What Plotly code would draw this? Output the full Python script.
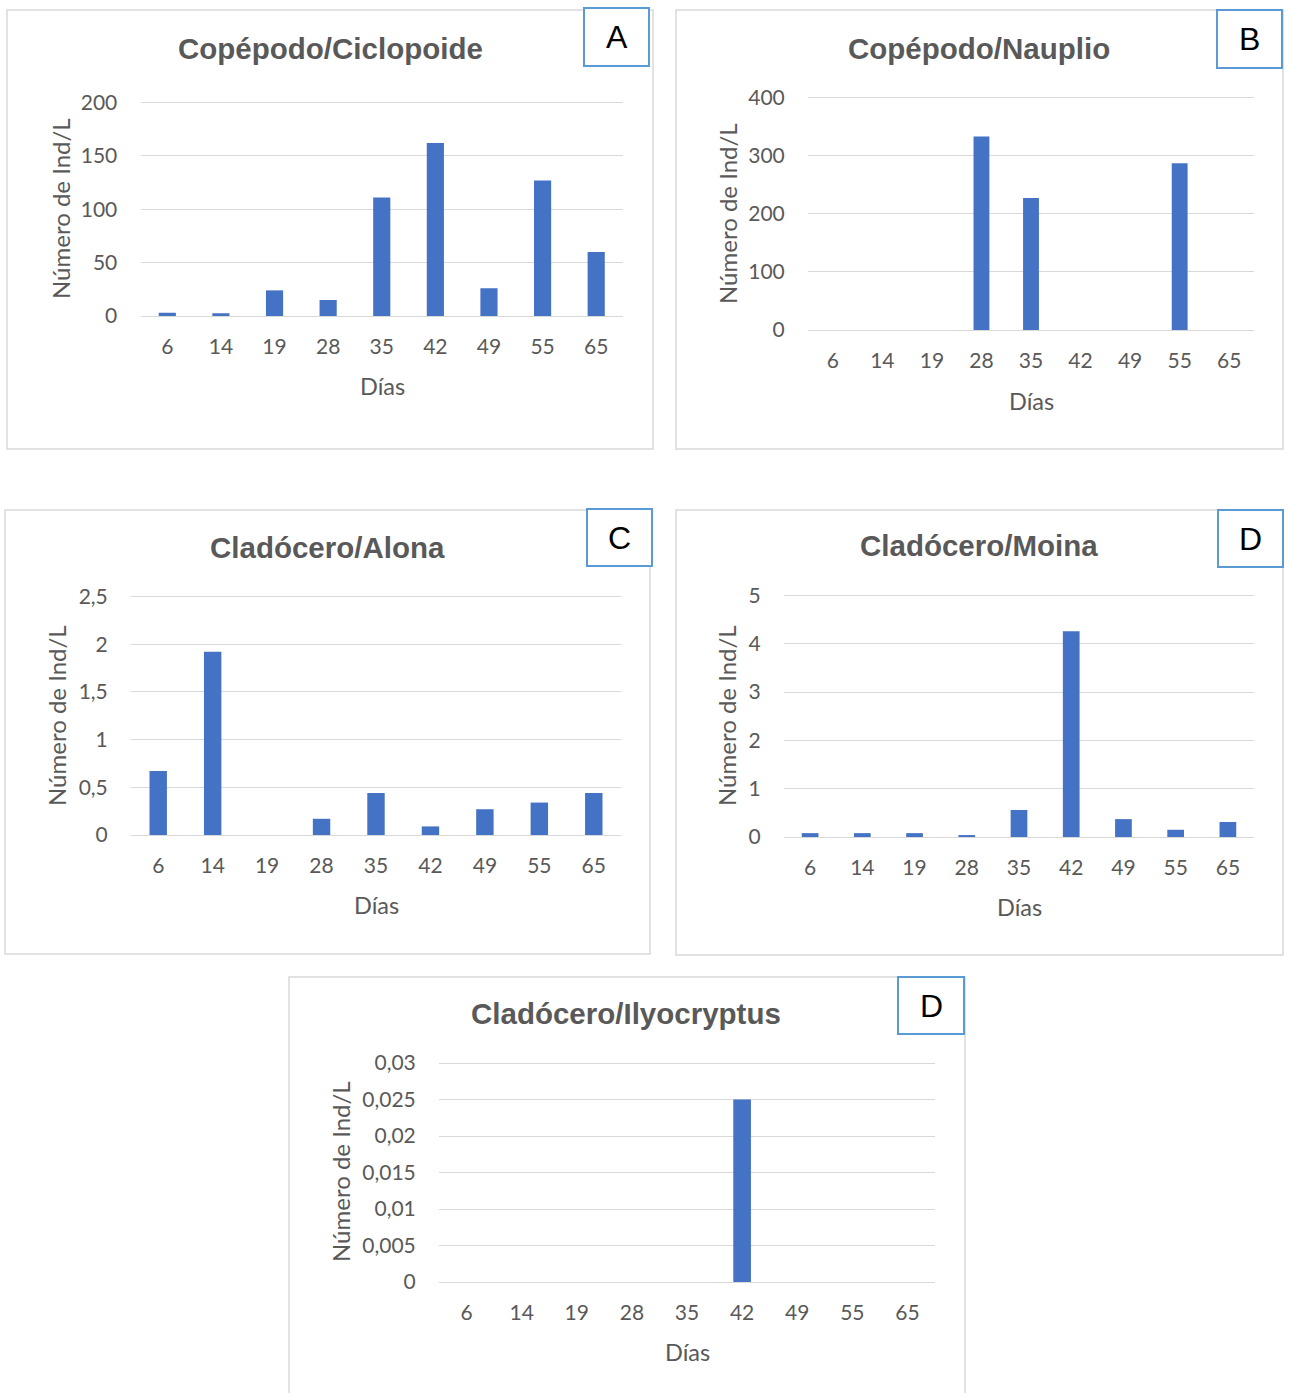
import plotly.graph_objects as go

W, H = 1290, 1393

dias = ["6", "14", "19", "28", "35", "42", "49", "55", "65"]

ciclopoide = [3, 2.5, 24, 15, 111, 162, 26, 127, 60]
nauplio = [0, 0, 0, 333, 227, 0, 0, 287, 0]
alona = [0.67, 1.92, 0, 0.17, 0.44, 0.09, 0.27, 0.34, 0.44]
moina = [0.08, 0.08, 0.08, 0.04, 0.56, 4.26, 0.37, 0.15, 0.31]
ilyocryptus = [0, 0, 0, 0, 0, 0.025, 0, 0, 0]

titles = ["Copépodo/Ciclopoide", "Copépodo/Nauplio", "Cladócero/Alona",
          "Cladócero/Moina", "Cladócero/Ilyocryptus"]
letters = ["A", "B", "C", "D", "D"]

ticks_a = [0, 50, 100, 150, 200]
ticks_a_txt = ["0", "50", "100", "150", "200"]
ticks_b = [0, 100, 200, 300, 400]
ticks_b_txt = ["0", "100", "200", "300", "400"]
ticks_c = [0, 0.5, 1, 1.5, 2, 2.5]
ticks_c_txt = ["0", "0,5", "1", "1,5", "2", "2,5"]
ticks_d = [0, 1, 2, 3, 4, 5]
ticks_d_txt = ["0", "1", "2", "3", "4", "5"]
ticks_e = [0, 0.005, 0.01, 0.015, 0.02, 0.025, 0.03]
ticks_e_txt = ["0", "0,005", "0,01", "0,015", "0,02", "0,025", "0,03"]

series = [ciclopoide, nauplio, alona, moina, ilyocryptus]
tickvals = [ticks_a, ticks_b, ticks_c, ticks_d, ticks_e]
ticktexts = [ticks_a_txt, ticks_b_txt, ticks_c_txt, ticks_d_txt, ticks_e_txt]

# layout geometry in pixels
plot_boxes = [  # x0, x1, ytop, ybottom
    (140.5, 623, 102.5, 316),
    (808, 1254, 97.5, 330),
    (131, 621, 596.5, 835),
    (784, 1254, 595.5, 837),
    (439, 935, 1063, 1282),
]
panels = [  # x0, x1, y0, y1
    (7, 653, 10, 449),
    (676, 1283, 10, 449),
    (5, 650, 510, 954),
    (676, 1283, 510, 955),
    (289, 965, 977, 1400),
]
letter_boxes = [
    (584, 649, 8, 66),
    (1217, 1282, 10, 68),
    (587, 652, 509, 566),
    (1218, 1283, 510, 567),
    (898, 964, 977, 1034),
]
title_pos = [(330, 48), (979, 48), (327, 547), (979, 546), (626, 1013)]
ytitle_pos = [(60, 209), (727, 214), (57, 716), (727, 716), (340, 1172)]
xtitle_pos = [(382, 386), (1031, 401), (376, 905), (1019, 907), (687, 1352)]

EXT = 1.01  # small headroom so the top gridline is drawn


def px(x):
    return x / W


def py(y):
    return 1 - y / H


GRID = "#D9D9D9"
TXT = "#595959"
BAR = "#4472C4"
TICKFONT = dict(family="Lato, Carlito, Calibri, sans-serif", size=21, color=TXT)

fig = go.Figure()
shapes = []
annotations = []

for i in range(5):
    n = "" if i == 0 else str(i + 1)
    x0, x1, yt, yb = plot_boxes[i]
    yt_ext = yb - (yb - yt) * EXT
    fig.add_trace(go.Bar(x=dias, y=series[i], marker=dict(color=BAR, line=dict(width=0)),
                         xaxis="x" + n, yaxis="y" + n, showlegend=False))
    fig.layout["xaxis" + n] = dict(
        domain=[px(x0), px(x1)], anchor="y" + n, type="category",
        showgrid=False, showline=True, linecolor=GRID, linewidth=1.3,
        ticks="outside", ticklen=12, tickcolor="rgba(0,0,0,0)",
        tickfont=TICKFONT, fixedrange=True, automargin=False,
    )
    fig.layout["yaxis" + n] = dict(
        domain=[py(yb), py(yt_ext)], anchor="x" + n,
        range=[0, tickvals[i][-1] * EXT], tickvals=tickvals[i], ticktext=ticktexts[i],
        showgrid=True, gridcolor=GRID, gridwidth=1.3, zeroline=False,
        showline=False, ticks="outside", ticklen=18, tickcolor="rgba(0,0,0,0)",
        tickfont=TICKFONT, fixedrange=True, automargin=False,
    )
    # panel frame
    p = panels[i]
    shapes.append(dict(type="rect", xref="paper", yref="paper",
                       x0=px(p[0]), x1=px(p[1]), y0=py(p[3]), y1=py(p[2]),
                       line=dict(color=GRID, width=1.5), fillcolor="rgba(0,0,0,0)",
                       layer="below"))
    lb = letter_boxes[i]
    shapes.append(dict(type="rect", xref="paper", yref="paper",
                       x0=px(lb[0]), x1=px(lb[1]), y0=py(lb[3]), y1=py(lb[2]),
                       line=dict(color="#5B9BD5", width=2), fillcolor="white",
                       layer="above"))
    annotations.append(dict(text=letters[i], xref="paper", yref="paper",
                            x=px((lb[0] + lb[1]) / 2), y=py((lb[2] + lb[3]) / 2),
                            showarrow=False, xanchor="center", yanchor="middle",
                            font=dict(family="Liberation Sans, Arial, sans-serif",
                                      size=32, color="black")))
    tx, ty = title_pos[i]
    annotations.append(dict(text="<b>" + titles[i] + "</b>", xref="paper", yref="paper",
                            x=px(tx), y=py(ty), showarrow=False,
                            xanchor="center", yanchor="middle",
                            font=dict(family="Liberation Sans, Arial, sans-serif",
                                      size=29.5, color=TXT)))
    ax, ay = ytitle_pos[i]
    annotations.append(dict(text="Número de Ind/L", xref="paper", yref="paper",
                            x=px(ax), y=py(ay), showarrow=False, textangle=-90,
                            xanchor="center", yanchor="middle",
                            font=dict(family="Lato, Carlito, Calibri, sans-serif",
                                      size=24, color=TXT)))
    dx, dy = xtitle_pos[i]
    annotations.append(dict(text="Días", xref="paper", yref="paper",
                            x=px(dx), y=py(dy), showarrow=False,
                            xanchor="center", yanchor="middle",
                            font=dict(family="Lato, Carlito, Calibri, sans-serif",
                                      size=23.5, color=TXT)))

fig.update_layout(
    width=W, height=H, margin=dict(l=0, r=0, t=0, b=0, pad=0, autoexpand=False),
    paper_bgcolor="white", plot_bgcolor="white",
    bargap=0.68, shapes=shapes, annotations=annotations,
    showlegend=False,
)

fig.write_html("out.html", config={"displayModeBar": False},
               post_script="document.body.style.margin='0';")
